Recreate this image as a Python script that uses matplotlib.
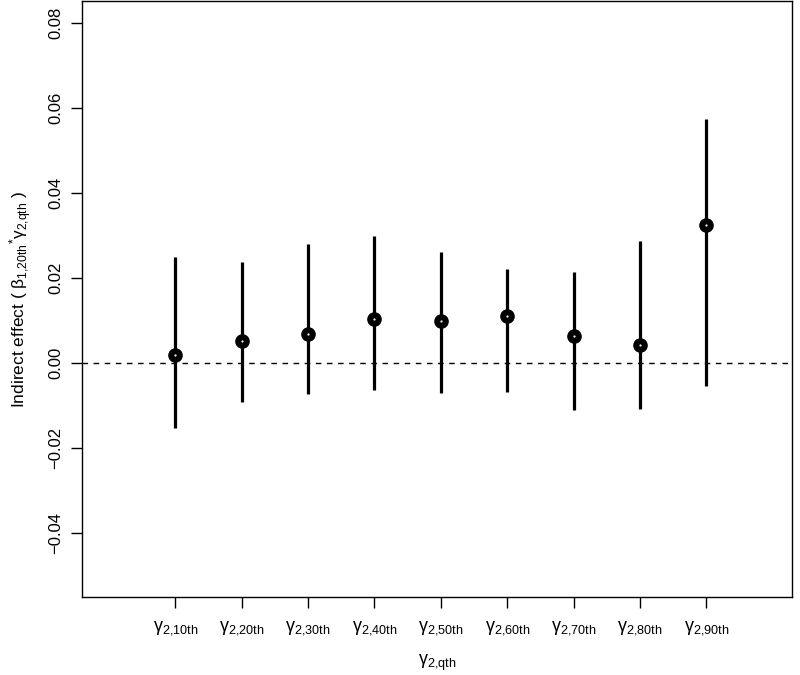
import numpy as np
import matplotlib
matplotlib.use("Agg")
import matplotlib.pyplot as plt

plt.rcParams['font.family'] = ['Liberation Sans', 'DejaVu Sans']
plt.rcParams['mathtext.fontset'] = 'custom'
plt.rcParams['mathtext.rm'] = 'Liberation Sans'
plt.rcParams['mathtext.it'] = 'Liberation Sans'
plt.rcParams['mathtext.bf'] = 'Liberation Sans:bold'

# ─────────────────────────────────────────
# DATA
# ─────────────────────────────────────────
quantiles = ['10th', '20th', '30th', '40th', '50th', '60th', '70th', '80th', '90th']
estimate = [0.0018, 0.0052, 0.0067, 0.0104, 0.0099, 0.0110, 0.0063, 0.0043, 0.0324]
ci_upper = [0.0249, 0.0238, 0.0280, 0.0299, 0.0260, 0.0220, 0.0215, 0.0286, 0.0574]
ci_lower = [-0.0154, -0.0092, -0.0073, -0.0064, -0.0071, -0.0068, -0.0110, -0.0108, -0.0055]
y_ticks = [-0.04, -0.02, 0.00, 0.02, 0.04, 0.06, 0.08]

x = np.arange(1, len(quantiles) + 1)

# ─────────────────────────────────────────
# PLOT
# ─────────────────────────────────────────
fig = plt.figure(figsize=(8, 6.75), dpi=100)
ax = fig.add_axes([0.103, 0.115, 0.887, 0.8835])

ax.axhline(0, color='black', lw=1, linestyle=(0, (4, 4)), zorder=1)
ax.vlines(x, ci_lower, ci_upper, color='black', lw=2.3, zorder=2)
ax.plot(x, estimate, 'o', color='black', markersize=9.5, zorder=3)
ax.plot(x, estimate, '.', color='white', markersize=1.2, zorder=4)

ax.set_xlim(-0.4, 10.29)
ax.set_ylim(-0.0552, 0.0852)

ax.set_xticks(x)
ax.set_xticklabels([r'$\gamma_{2{,}%s}$' % q for q in quantiles], fontsize=13)
ax.set_yticks(y_ticks)
ax.set_yticklabels([f'{v:.2f}'.replace('-', '\u2212') for v in y_ticks],
                   rotation=90, va='center', fontsize=12)
ax.tick_params(axis='both', length=8, width=1, colors='black')
ax.tick_params(axis='x', pad=8)
ax.tick_params(axis='y', pad=6)

for s in ax.spines.values():
    s.set_linewidth(1)

ax.set_xlabel(r'$\gamma_{2{,}qth}$', fontsize=13, labelpad=11)
ax.set_ylabel(r'Indirect effect ( $\beta_{1{,}20th}$$^{*}$$\gamma_{2{,}qth}$ )',
              fontsize=12.5, labelpad=10)

plt.savefig("out.png", dpi=100)
